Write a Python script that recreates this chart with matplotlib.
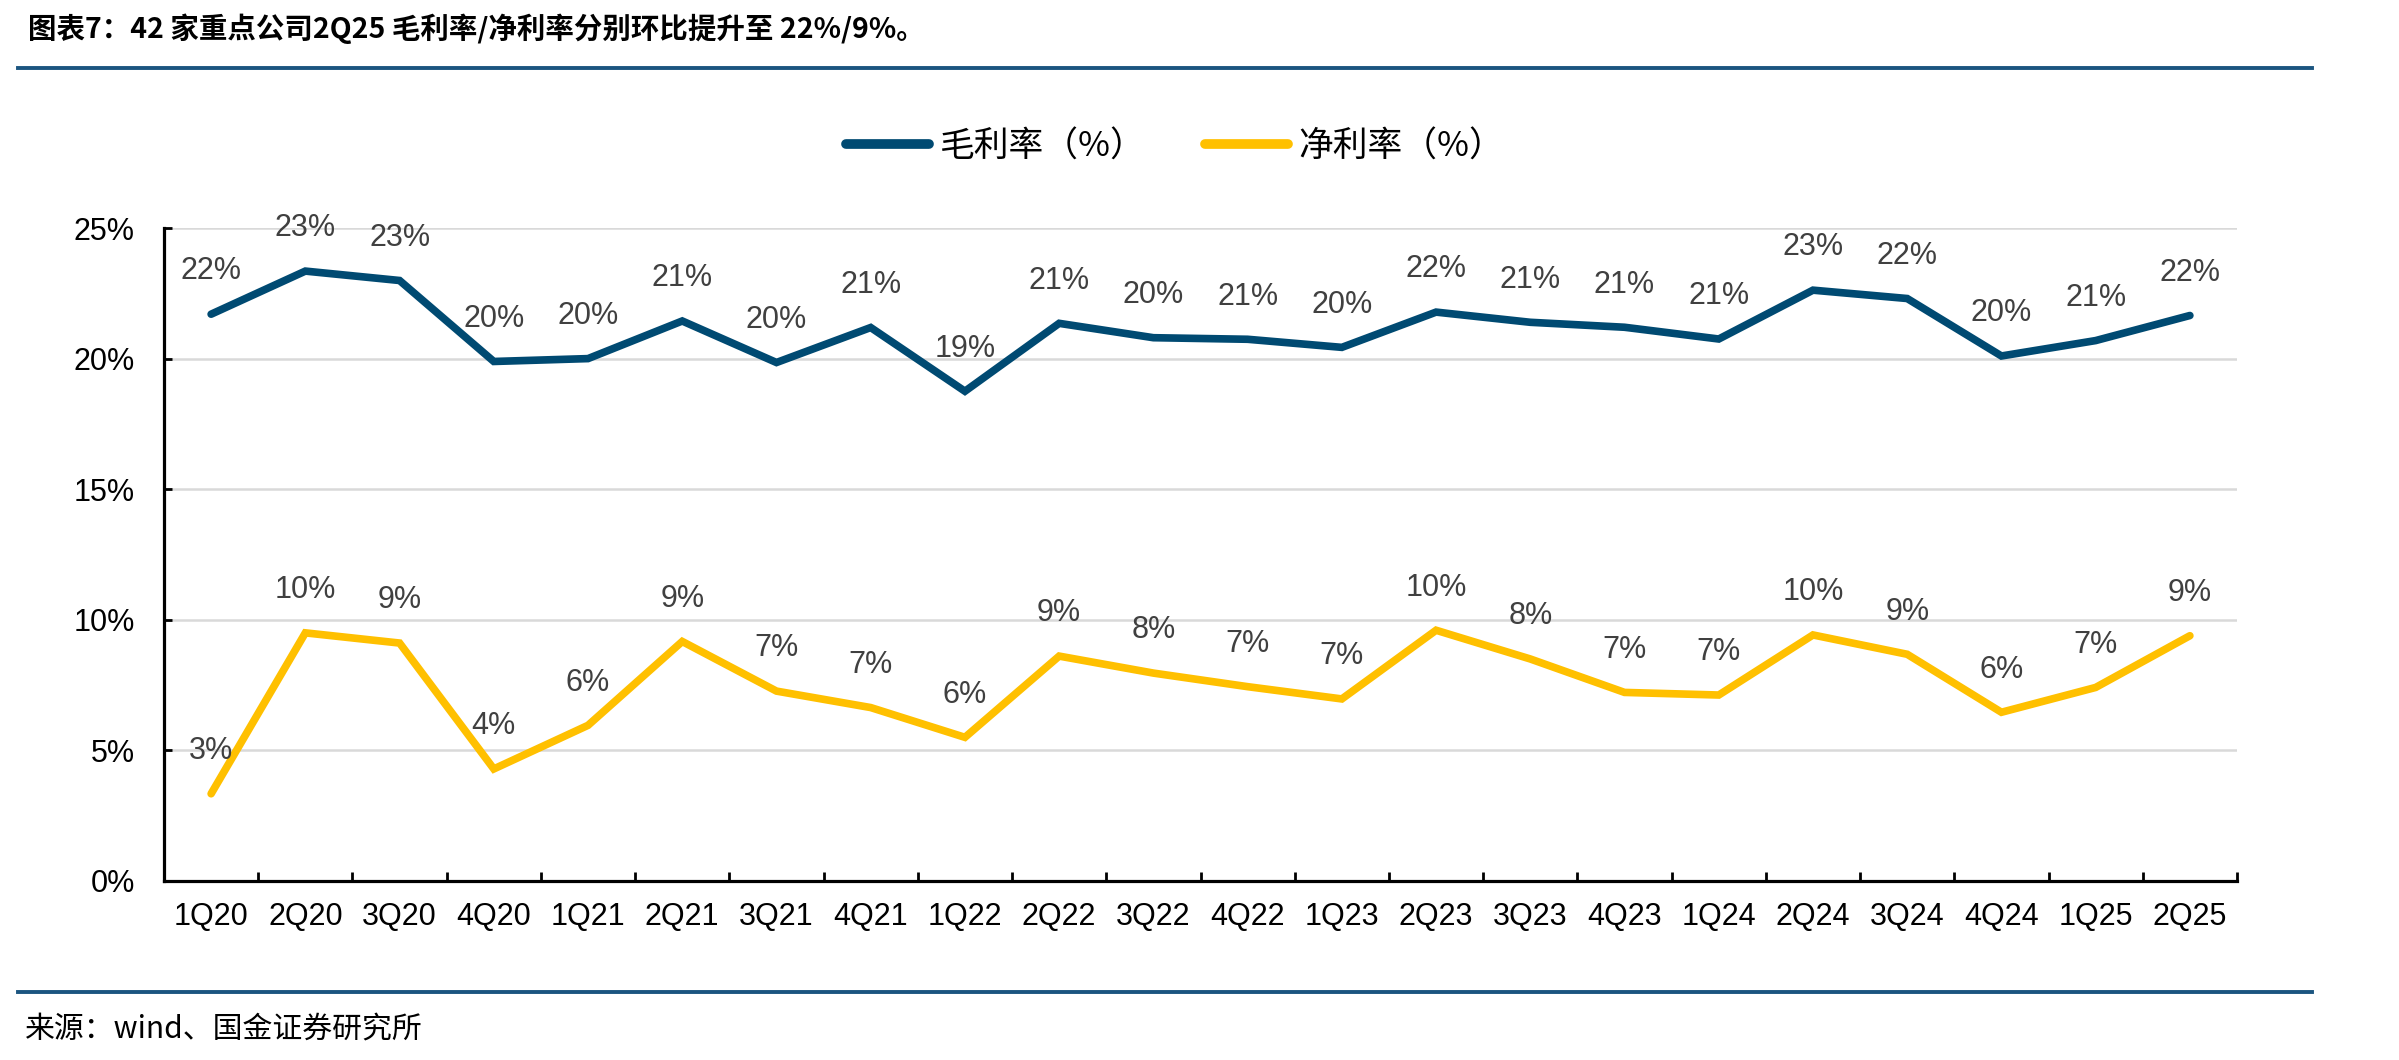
import matplotlib
matplotlib.use("Agg")
import matplotlib.pyplot as plt
from matplotlib.lines import Line2D
from matplotlib.ticker import FixedLocator, FuncFormatter

# ---------------------------------------------------------------------- #
# Data
# ---------------------------------------------------------------------- #
quarters = ["1Q20", "2Q20", "3Q20", "4Q20", "1Q21", "2Q21", "3Q21", "4Q21",
            "1Q22", "2Q22", "3Q22", "4Q22", "1Q23", "2Q23", "3Q23", "4Q23",
            "1Q24", "2Q24", "3Q24", "4Q24", "1Q25", "2Q25"]

gross_margin = [21.70, 23.35, 22.99, 19.89, 20.00, 21.44, 19.85, 21.19,
                18.75, 21.35, 20.80, 20.74, 20.43, 21.78, 21.39, 21.20,
                20.75, 22.62, 22.30, 20.10, 20.69, 21.65]
gross_labels = ["22%", "23%", "23%", "20%", "20%", "21%", "20%", "21%",
                "19%", "21%", "20%", "21%", "20%", "22%", "21%", "21%",
                "21%", "23%", "22%", "20%", "21%", "22%"]

net_margin = [3.34, 9.50, 9.11, 4.29, 5.96, 9.17, 7.27, 6.64,
              5.50, 8.61, 7.96, 7.44, 6.97, 9.60, 8.50, 7.22,
              7.12, 9.42, 8.68, 6.46, 7.41, 9.39]
net_labels = ["3%", "10%", "9%", "4%", "6%", "9%", "7%", "7%",
              "6%", "9%", "8%", "7%", "7%", "10%", "8%", "7%",
              "7%", "10%", "9%", "6%", "7%", "9%"]

y_ticks = [0, 5, 10, 15, 20, 25]

title = "图表7：42 家重点公司2Q25 毛利率/净利率分别环比提升至 22%/9%。"
source = "来源：wind、国金证券研究所"
gross_name = "毛利率（%）"
net_name = "净利率（%）"

BLUE = "#004A72"
GOLD = "#FFC000"
RULE = "#1B5580"
LABEL_GREY = "#404040"

CJK = ["Noto Sans CJK SC", "DejaVu Sans"]
LATIN = ["Liberation Sans", "DejaVu Sans"]

# ---------------------------------------------------------------------- #
# Figure
# ---------------------------------------------------------------------- #
W, H = 2399, 1060
fig = plt.figure(figsize=(W / 100, H / 100), dpi=100)
ax = fig.add_axes([164 / W, 1 - 881 / H, (2237 - 164) / W, (881 - 228) / H])

x = list(range(len(quarters)))
ax.plot(x, gross_margin, color=BLUE, lw=5.5, solid_capstyle="round",
        solid_joinstyle="miter", label=gross_name, zorder=3)
ax.plot(x, net_margin, color=GOLD, lw=5.5, solid_capstyle="round",
        solid_joinstyle="miter", label=net_name, zorder=3)

for xi, v, s in zip(x, gross_margin, gross_labels):
    ax.annotate(s, (xi, v), xytext=(0, 25), textcoords="offset points",
                ha="center", va="baseline", fontsize=22, color=LABEL_GREY,
                family=LATIN, zorder=4)
for xi, v, s in zip(x, net_margin, net_labels):
    ax.annotate(s, (xi, v), xytext=(0, 25), textcoords="offset points",
                ha="center", va="baseline", fontsize=22, color=LABEL_GREY,
                family=LATIN, zorder=4)

ax.set_xlim(-0.5, len(quarters) - 0.5)
ax.set_ylim(0, 25)

ax.set_yticks(y_ticks)
ax.yaxis.set_major_formatter(FuncFormatter(lambda v, _: f"{v:.0f}%"))
ax.set_xticks(x)
ax.set_xticklabels(quarters)
ax.xaxis.set_minor_locator(FixedLocator([i + 0.5 for i in x]))

ax.tick_params(axis="x", which="major", length=0, pad=15, labelsize=22)
ax.tick_params(axis="x", which="minor", direction="in", length=6.5,
               width=2, color="black")
ax.tick_params(axis="y", which="major", direction="in", length=6,
               width=2, pad=21, labelsize=22)
for lab in ax.get_xticklabels() + ax.get_yticklabels():
    lab.set_family(LATIN)

ax.grid(axis="y", color="#D9D9D9", lw=1.8, zorder=0)
ax.set_axisbelow(True)
for side in ("top", "right"):
    ax.spines[side].set_visible(False)
for side in ("left", "bottom"):
    ax.spines[side].set_linewidth(2.3)
    ax.spines[side].set_color("black")
    ax.spines[side].set_zorder(5)

leg = fig.legend(loc="center", bbox_to_anchor=(1175 / W, 1 - 147 / H), ncol=2,
                 frameon=False, handlelength=2.4, handletextpad=0.3,
                 columnspacing=1.7, prop={"family": CJK, "size": 25})
for line in leg.get_lines():
    line.set_linewidth(7)

# ---------------------------------------------------------------------- #
# Title, rules, source
# ---------------------------------------------------------------------- #
fig.text(28 / W, 1 - 29 / H, title, ha="left", va="center", fontsize=20.5,
         fontweight="bold", family=CJK)
fig.add_artist(Line2D([18 / W, 2312 / W], [1 - 68 / H, 1 - 68 / H],
                      color=RULE, lw=2.8, transform=fig.transFigure))
fig.add_artist(Line2D([18 / W, 2312 / W], [1 - 992 / H, 1 - 992 / H],
                      color=RULE, lw=2.8, transform=fig.transFigure))
fig.text(25 / W, 1 - 1029 / H, source, ha="left", va="center", fontsize=21.5,
         family=CJK)

fig.savefig("out.png", dpi=100)
